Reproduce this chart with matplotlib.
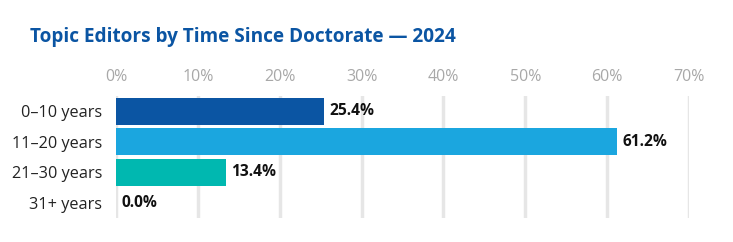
import matplotlib
matplotlib.use("Agg")
import matplotlib.pyplot as plt

categories = ["0–10 years", "11–20 years", "21–30 years", "31+ years"]
values = [25.4, 61.2, 13.4, 0.0]
colors = ["#0b55a3", "#1ba6df", "#00b8b0", "#8c8c8c"]
ticks = [0, 10, 20, 30, 40, 50, 60, 70]
title = "Topic Editors by Time Since Doctorate — 2024"

plt.rcParams['font.family'] = ['Open Sans', 'DejaVu Sans']

fig = plt.figure(figsize=(7.33, 2.42), dpi=100)
ax = fig.add_axes([116/733, 1-218/242, (689-116)/733, (218-96)/242])

y = list(range(len(categories)))
ax.barh(y, values, height=0.9, color=colors, zorder=3)
for yi, v in zip(y, values):
    ax.annotate(f"{v:.1f}%", (v, yi), xytext=(4, 0), textcoords="offset points",
                ha="left", va="center", fontsize=11.2, fontweight="bold", color="#111111")

ax.set_xlim(0, 70)
ax.set_ylim(3.5, -0.5)
ax.set_xticks(ticks)
ax.set_xticklabels([f"{t}%" for t in ticks])
ax.xaxis.tick_top()
ax.tick_params(axis="x", length=0, pad=8, labelsize=11.5, labelcolor="#a8a8a8")
ax.set_yticks(y)
ax.set_yticklabels(categories)
ax.tick_params(axis="y", length=0, pad=10, labelsize=11.7, labelcolor="#222222")
ax.grid(axis="x", color="#e6e6e6", linewidth=2.5, zorder=0)
ax.set_axisbelow(True)
for s in ax.spines.values():
    s.set_visible(False)

fig.text(30/733, 1-37/242, title, fontsize=13.7, fontweight="bold", color="#0b55a3",
         ha="left", va="center")

fig.savefig("out.png", dpi=100)
